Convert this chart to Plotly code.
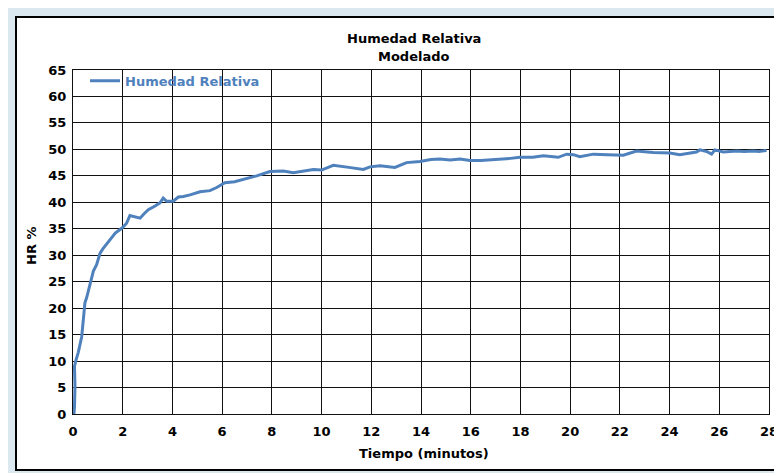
import plotly.graph_objects as go

# Tiempo (minutos)
tiempo = [0.04, 0.06, 0.08, 0.06, 0.12, 0.21, 0.35, 0.41, 0.48, 0.55, 0.68, 0.75, 0.82, 0.95,
          1.09, 1.2, 1.49, 1.7, 1.96, 2.15, 2.29, 2.5, 2.7, 2.85, 3.03, 3.3, 3.5, 3.63, 3.77,
          4.03, 4.24, 4.44, 4.71, 5.11, 5.51, 5.78, 6.11, 6.5, 6.85, 7.39, 7.92, 8.46, 8.86,
          9.3, 9.67, 10.0, 10.47, 11.1, 11.68, 11.95, 12.35, 12.95, 13.42, 13.96, 14.4, 14.76,
          15.17, 15.57, 15.97, 16.4, 16.77, 17.18, 17.6, 17.98, 18.5, 18.92, 19.52, 19.86, 20.13,
          20.39, 20.93, 21.5, 22.14, 22.67, 23.34, 24.01, 24.41, 25.08, 25.22, 25.49, 25.69,
          25.82, 26.16, 26.7, 27.0, 27.37, 27.6, 27.9]
# Humedad Relativa (%)
hr = [0.0, 1.4, 5.2, 9.0, 10.2, 11.6, 14.6, 18.0, 21.0, 22.0, 24.7, 26.0, 27.0, 28.2,
      30.4, 31.2, 33.0, 34.2, 35.1, 36.0, 37.5, 37.2, 37.0, 37.8, 38.6, 39.3, 39.9, 40.8, 40.2,
      40.2, 41.0, 41.1, 41.4, 42.0, 42.2, 42.8, 43.7, 43.9, 44.3, 45.0, 45.8, 45.9, 45.6,
      46.0, 46.2, 46.1, 47.0, 46.6, 46.2, 46.7, 46.9, 46.6, 47.5, 47.7, 48.1, 48.2,
      48.0, 48.2, 47.9, 47.9, 48.0, 48.2, 48.3, 48.5, 48.5, 48.8, 48.5, 49.1, 49.0,
      48.6, 49.1, 49.0, 48.9, 49.7, 49.4, 49.3, 49.0, 49.5, 49.9, 49.6, 49.1,
      49.9, 49.5, 49.7, 49.6, 49.7, 49.6, 49.8]

x_ticks = list(range(0, 29, 2))
y_ticks = list(range(0, 66, 5))

title_lines = ["Humedad Relativa", "Modelado"]
x_title = "Tiempo (minutos)"
y_title = "HR %"

FONT = "DejaVu Sans, Verdana, sans-serif"
BOLD = dict(family=FONT, size=13, color="black", weight="bold")

# plot area on screen: x 73..769, y 70..414 (page body adds 8px offset)
PX0, PX1, PY0, PY1 = 73, 769, 70, 414
W, H = PX1 - PX0, PY1 - PY0


def px(x):
    return (x - PX0) / W


def py(y):
    return (PY1 - y) / H


fig = go.Figure()
fig.add_trace(go.Scatter(
    x=tiempo, y=hr, mode="lines", name="Humedad Relativa",
    line=dict(color="#4f81bd", width=3),
))

axis_common = dict(
    showgrid=True, gridcolor="#111111", gridwidth=1,
    showline=True, linecolor="#111111", linewidth=1, mirror=True,
    zeroline=False, ticks="", automargin=False,
    tickfont=BOLD,
)

fig.update_layout(
    width=782, height=473,
    margin=dict(l=PX0 - 8, r=782 - (PX1 - 8), t=PY0 - 8, b=473 - (PY1 - 8)),
    paper_bgcolor="#dce8f0",
    plot_bgcolor="white",
    font=dict(family=FONT, color="black", size=13),
    showlegend=True,
    legend=dict(
        x=px(85), y=1.012, xanchor="left", yanchor="top",
        bgcolor="rgba(0,0,0,0)",
        font=dict(family=FONT, size=13, color="#4f81bd", weight="bold"),
        itemwidth=30,
    ),
    xaxis=dict(range=[0, 28], tickvals=x_ticks, ticktext=[str(v) for v in x_ticks],
               ticklabelstandoff=5, **axis_common),
    yaxis=dict(range=[0, 65], tickvals=y_ticks, ticktext=[str(v) for v in y_ticks],
               ticklabelstandoff=3, **axis_common),
    shapes=[
        dict(type="rect", xref="paper", yref="paper", layer="below",
             x0=px(16), x1=px(800), y0=py(470), y1=py(17),
             fillcolor="white", line=dict(color="black", width=2)),
    ],
    annotations=[
        dict(text=title_lines[0], xref="paper", yref="paper", x=px(414), y=py(38),
             xanchor="center", yanchor="middle", showarrow=False, font=BOLD),
        dict(text=title_lines[1], xref="paper", yref="paper", x=px(414), y=py(57),
             xanchor="center", yanchor="middle", showarrow=False, font=BOLD),
        dict(text=x_title, xref="paper", yref="paper", x=px(424), y=py(453),
             xanchor="center", yanchor="middle", showarrow=False, font=BOLD),
        dict(text=y_title, xref="paper", yref="paper", x=px(31), y=py(246),
             xanchor="center", yanchor="middle", showarrow=False, textangle=-90, font=BOLD),
    ],
)

fig.write_html("out.html")
